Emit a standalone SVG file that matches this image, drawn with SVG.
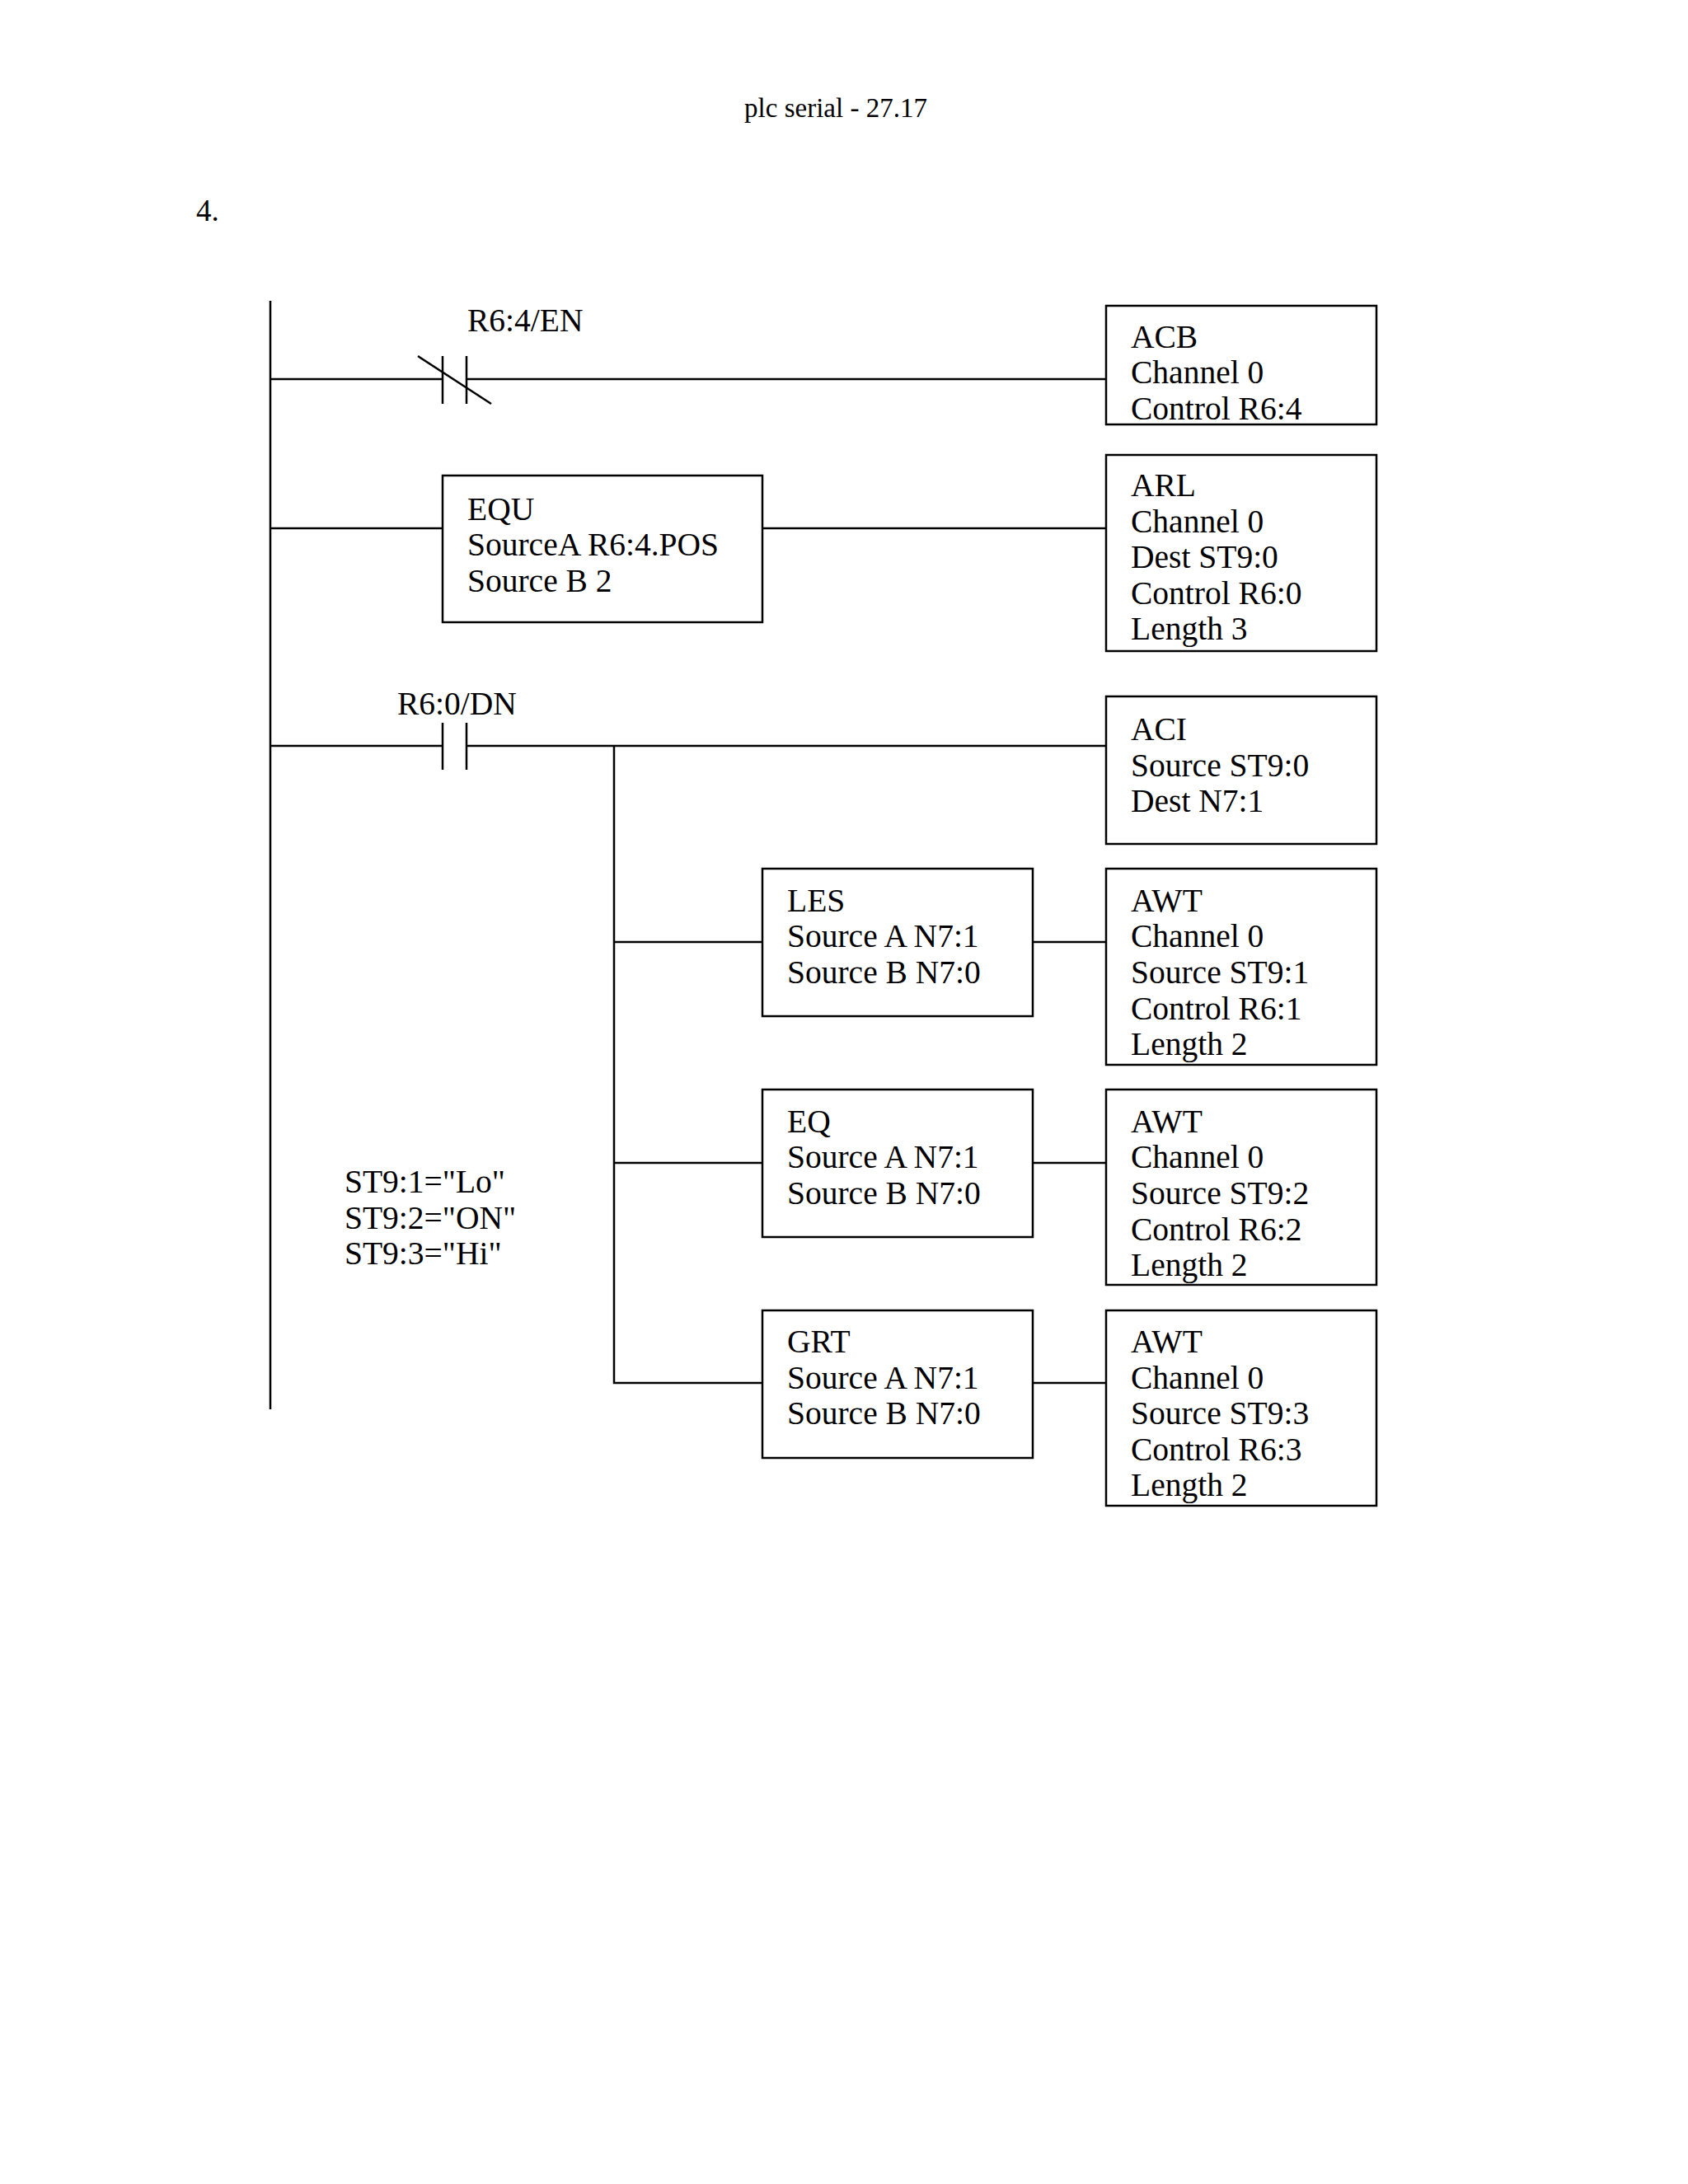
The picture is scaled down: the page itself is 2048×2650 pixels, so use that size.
<svg xmlns="http://www.w3.org/2000/svg" width="2048" height="2650" viewBox="0 0 2048 2650">
<style>
text{font-family:"Liberation Serif","Times New Roman",serif;fill:#000;font-size:39.5px}
.t{font-size:33px}
.h{font-size:37px}
line,rect,polyline{stroke:#000;stroke-width:2.5;fill:none}
rect.bg{stroke:none;fill:#fff}
</style>
<rect class="bg" x="0" y="0" width="2048" height="2650"/>
<text class="t" x="1014" y="142" text-anchor="middle">plc serial - 27.17</text>
<text class="h" x="238" y="268">4.</text>
<g id="connectors">
<line x1="328" y1="365" x2="328" y2="1710"/>
<line x1="328" y1="460" x2="537" y2="460"/>
<line x1="566" y1="460" x2="1342" y2="460"/>
<line x1="328" y1="641" x2="537" y2="641"/>
<line x1="925" y1="641" x2="1342" y2="641"/>
<line x1="328" y1="905" x2="537" y2="905"/>
<line x1="566" y1="905" x2="1342" y2="905"/>
<polyline points="745,905 745,1678 925,1678"/>
<line x1="745" y1="1143" x2="925" y2="1143"/>
<line x1="745" y1="1411" x2="925" y2="1411"/>
<line x1="1253" y1="1143" x2="1342" y2="1143"/>
<line x1="1253" y1="1411" x2="1342" y2="1411"/>
<line x1="1253" y1="1678" x2="1342" y2="1678"/>
</g>
<g id="contact1">
<line x1="537" y1="432" x2="537" y2="490"/>
<line x1="566" y1="432" x2="566" y2="490"/>
<line x1="507" y1="432" x2="596" y2="490"/>
<text x="567" y="402">R6:4/EN</text>
</g>
<g id="contact2">
<line x1="537" y1="877" x2="537" y2="934"/>
<line x1="566" y1="877" x2="566" y2="934"/>
<text x="482" y="867">R6:0/DN</text>
</g>
<g id="acb"><rect x="1342" y="371" width="328" height="144"/>
<text x="1372" y="422">ACB</text><text x="1372" y="465">Channel 0</text><text x="1372" y="509">Control R6:4</text></g>
<g id="equ"><rect x="537" y="577" width="388" height="178"/>
<text x="567" y="631">EQU</text><text x="567" y="674">SourceA R6:4.POS</text><text x="567" y="718">Source B 2</text></g>
<g id="arl"><rect x="1342" y="552" width="328" height="238"/>
<text x="1372" y="602">ARL</text><text x="1372" y="646">Channel 0</text><text x="1372" y="689">Dest ST9:0</text><text x="1372" y="733">Control R6:0</text><text x="1372" y="776">Length 3</text></g>
<g id="aci"><rect x="1342" y="845" width="328" height="179"/>
<text x="1372" y="898">ACI</text><text x="1372" y="942">Source ST9:0</text><text x="1372" y="985">Dest N7:1</text></g>
<g id="les"><rect x="925" y="1054" width="328" height="179"/>
<text x="955" y="1106">LES</text><text x="955" y="1149">Source A N7:1</text><text x="955" y="1193">Source B N7:0</text></g>
<g id="awt1"><rect x="1342" y="1054" width="328" height="238"/>
<text x="1372" y="1106">AWT</text><text x="1372" y="1149">Channel 0</text><text x="1372" y="1193">Source ST9:1</text><text x="1372" y="1237">Control R6:1</text><text x="1372" y="1280">Length 2</text></g>
<g id="eq"><rect x="925" y="1322" width="328" height="179"/>
<text x="955" y="1374">EQ</text><text x="955" y="1417">Source A N7:1</text><text x="955" y="1461">Source B N7:0</text></g>
<g id="awt2"><rect x="1342" y="1322" width="328" height="237"/>
<text x="1372" y="1374">AWT</text><text x="1372" y="1417">Channel 0</text><text x="1372" y="1461">Source ST9:2</text><text x="1372" y="1505">Control R6:2</text><text x="1372" y="1548">Length 2</text></g>
<g id="grt"><rect x="925" y="1590" width="328" height="179"/>
<text x="955" y="1641">GRT</text><text x="955" y="1685">Source A N7:1</text><text x="955" y="1728">Source B N7:0</text></g>
<g id="awt3"><rect x="1342" y="1590" width="328" height="237"/>
<text x="1372" y="1641">AWT</text><text x="1372" y="1685">Channel 0</text><text x="1372" y="1728">Source ST9:3</text><text x="1372" y="1772">Control R6:3</text><text x="1372" y="1815">Length 2</text></g>
<g id="strings">
<text x="418" y="1447">ST9:1="Lo"</text><text x="418" y="1491">ST9:2="ON"</text><text x="418" y="1534">ST9:3="Hi"</text>
</g>
</svg>
